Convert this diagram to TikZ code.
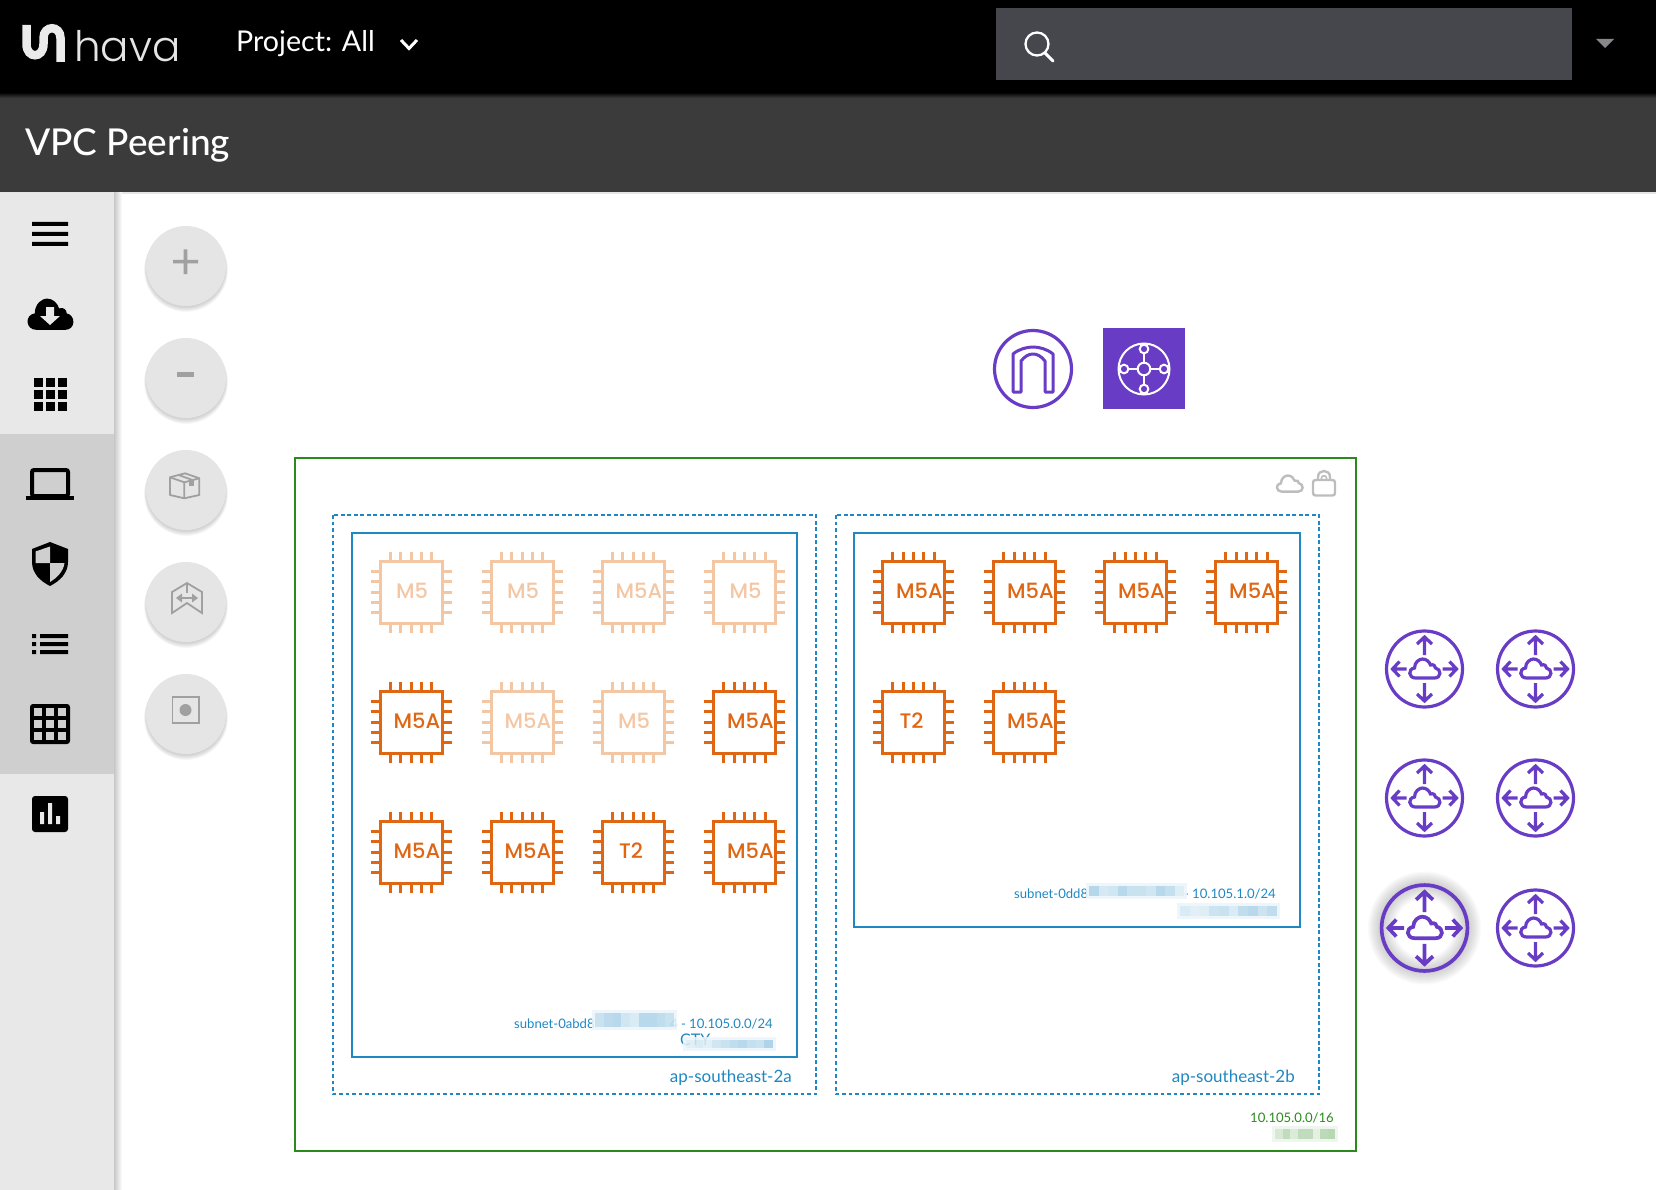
\documentclass[tikz,border=0pt]{standalone}
\usepackage{fontspec}
\setmainfont{Lato}
\newfontfamily\mediumfont{Lato Medium}
\newfontfamily\chipfont{Poppins Medium}
\newfontfamily\logofont{Poppins Light}
\definecolor{headbar}{HTML}{3B3B3B}
\definecolor{searchbox}{HTML}{46474C}
\definecolor{sidebar}{HTML}{E8E8E8}
\definecolor{sidehi}{HTML}{CFCFCF}
\definecolor{zoombtn}{HTML}{E5E5E5}
\definecolor{btnicon}{HTML}{A0A0A0}
\definecolor{vpcgreen}{HTML}{2A8A1C}
\definecolor{subnetblue}{HTML}{1F87C2}
\definecolor{chiporange}{HTML}{DF6613}
\definecolor{chipfade}{HTML}{F3C6A4}
\definecolor{awspurple}{HTML}{693CC5}
\definecolor{lockgrey}{HTML}{BDBDBD}
\tikzset{
  purpleline/.style={draw=awspurple,line width=3.2pt},
  chipline/.style={line width=3pt},
  subnetbox/.style={draw=subnetblue,line width=2.3pt},
  azbox/.style={draw=subnetblue,line width=2.2pt,dash pattern=on 3.6pt off 2.9pt},
  smalllabel/.style={inner sep=0pt,font=\fontsize{13.1}{15}\selectfont},
  azlabel/.style={inner sep=0pt,text=subnetblue,font=\fontsize{17}{18}\selectfont},
  chiplabel/.style={inner sep=0pt,font=\chipfont\fontsize{21}{24}\selectfont},
  iconbtn/.style={draw=btnicon,line width=1.8pt},
  cloudicon/.pic={
    \path[pic actions] (-9,9) .. controls (-16,9) and (-17,0) .. (-10,-1) .. controls (-10,-7) and (-5,-10) .. (-2,-10) .. controls (2,-10) and (5,-7) .. (6,-4) .. controls (9,-5) and (11,-3) .. (11,-1) .. controls (17,0) and (17,9) .. (10,9) -- cycle;
  },
  vpcrouter/.pic={
    \draw[purpleline] (0,0) circle (38);
    \foreach \a/\s in {0/18,90/14,180/18,270/14}
      \draw[purpleline,rotate=\a] (\s,0) -- (32,0) (25,-7.5) -- (32,0) -- (25,7.5);
    \draw[purpleline] (-9,9) .. controls (-16,9) and (-17,0) .. (-10,-1) .. controls (-10,-7) and (-5,-10) .. (-2,-10) .. controls (2,-10) and (5,-7) .. (6,-4) .. controls (9,-5) and (11,-3) .. (11,-1) .. controls (17,0) and (17,9) .. (10,9) -- cycle;
  }
}
\newcommand{\blurbar}[7]{
  \fill[white,opacity=.85] (#1-3,#2-3) rectangle (#1+#3+3,#2+#4+3);
  \fill[#5,opacity=.07] (#1-3,#2-3) rectangle (#1+#3+3,#2+#4+3);
  \foreach \o [count=\i from 0] in {#6}
    \fill[#5,opacity=\o] (#1+\i*#7,#2) rectangle +(#7,#4);
}
\begin{document}
\begin{tikzpicture}[line cap=butt,line join=miter,x=1pt,y=-1pt]
\useasboundingbox (0,0) rectangle (1656,1190);
\fill[black] (0,0) rectangle (1656,94);
\fill[headbar] (0,94) rectangle (1656,192);
\shade[top color=black!70!headbar,bottom color=headbar] (0,94) rectangle (1656,98);
\fill[zoombtn] (0,192) rectangle (1656,194);
\shade[left color=black!22,right color=white] (114,193) rectangle (122,1190);
\fill[sidebar] (0,193) rectangle (114,1190);
\fill[sidehi] (0,434) rectangle (114,774);

\draw[white!92!black,line width=8.5pt] (26.5,25) -- (26.5,44) .. controls (26.5,59) and (43.5,59) .. (43.5,44) -- (43.5,38) .. controls (43.5,25) and (60.5,25) .. (60.5,38) -- (60.5,62);
\node[anchor=base west,inner sep=0pt,text=white!90!black,font=\logofont\fontsize{42}{46}\selectfont] (logo) at (74,62) {hava};
\node[anchor=base west,inner sep=0pt,text=white,font=\fontsize{28.6}{30}\selectfont] (project) at (236,52) {Project: All};
\draw[white,line width=3pt] (401,40) -- (409,48.5) -- (417,40);
\fill[searchbox] (996,8) rectangle (1572,80);
\draw[white,line width=2.3pt] (1037,44) circle (11.5);
\draw[white,line width=3pt,line cap=round] (1045,53) -- (1053,61);
\fill[white!35!searchbox] (1596,39) -- (1614,39) -- (1605,48) -- cycle;
\node[anchor=base west,inner sep=0pt,text=white,font=\mediumfont\fontsize{37}{40}\selectfont] (title) at (25,156) {VPC Peering};

\fill[black] (32,222) rectangle (68,226) (32,232) rectangle (68,236) (32,242) rectangle (68,246);
\pic[fill=black,xscale=1.52,yscale=1.65] (dlcloud) at (50,315) {cloudicon};
\fill[sidebar] (46,307) -- (54,307) -- (54,316) -- (60,316) -- (50,325) -- (40,316) -- (46,316) -- cycle;
\foreach \i in {0,1,2}
  \foreach \j in {0,1,2}
    \fill[black] (34+\i*12,378+\j*12) rectangle +(8.5,8.5);
\draw[black,line width=4pt,rounded corners=2pt] (32,496) -- (32,470) -- (68,470) -- (68,496) -- cycle;
\fill[black] (26,496) rectangle (74,500);
\fill[black] (50,542) -- (68,549) -- (68,562) .. controls (68,573) and (60,581) .. (50,586) .. controls (40,581) and (32,573) .. (32,562) -- (32,549) -- cycle;
\fill[sidehi] (50,546.5) -- (35.5,551.5) -- (35.5,563) -- (50,563) -- cycle;
\fill[sidehi] (50,563) -- (64.5,563) .. controls (63.5,571) and (57,578) .. (50,582) -- cycle;
\foreach \y in {634,642,650}
  \fill[black] (32,\y) rectangle +(4,4) (40,\y) rectangle +(28,4);
\fill[black,rounded corners=3pt] (30,704) rectangle (70,744);
\foreach \i in {0,1,2}
  \foreach \j in {0,1,2}
    \fill[sidehi] (34+\i*12,708+\j*12) rectangle +(8,8);
\fill[black,rounded corners=3pt] (32,796) rectangle (68,832);
\fill[sidebar] (40,812) rectangle (44,824) (48,803) rectangle (52,824) (56,816) rectangle (60,824);

\foreach \y in {266,378,490,602,714} {
  \foreach \w in {1,...,6}
    \fill[black,opacity=.03] (186,\y+1+\w*.5) circle (39.5+\w*.4);
  \fill[zoombtn] (186,\y) circle (40);
}
\fill[btnicon] (173,260) rectangle (198,263.5) (183.7,249.5) rectangle (187.3,274);
\fill[btnicon] (177,371.5) rectangle (194,376.5);
\draw[iconbtn,line join=round] (185,473.3) -- (199.3,478.3) -- (199.3,495) -- (184.3,498.3) -- (170,495) -- (170,477.3) -- cycle;
\draw[iconbtn,line join=round] (170,477.3) -- (184.3,482.3) -- (199.3,478.3) (184.3,482.3) -- (184.3,498.3) (178.5,475) -- (192.5,480);
\fill[btnicon] (189,480) rectangle (194,486);
\draw[iconbtn] (172,592) -- (187,583) -- (202,592) -- (202,613) -- (187,603) -- (172,613) -- cycle;
\draw[iconbtn] (187,583) -- (187,593);
\draw[btnicon,line width=2.2pt] (180,598) -- (194,598);
\fill[btnicon] (176,598) -- (182,593.5) -- (182,602.5) -- cycle (198,598) -- (192,593.5) -- (192,602.5) -- cycle;
\draw[iconbtn] (172.5,697) rectangle (199,723);
\fill[btnicon] (185.5,710) circle (6);

\draw[purpleline] (1033,369) circle (38.5);
\draw[awspurple,line width=3pt,line join=round] (1013,392) -- (1013,354) .. controls (1019,349) and (1027,347) .. (1033,347) .. controls (1039,347) and (1047,349) .. (1053,354) -- (1053,392) -- (1045,392) -- (1045,361) .. controls (1041,356) and (1037,354) .. (1033,354) .. controls (1029,354) and (1025,356) .. (1021,361) -- (1021,392) -- cycle;
\fill[awspurple] (1103,328) rectangle (1185,409);
\draw[white,line width=2pt] (1144,369) circle (25.5);
\foreach \a in {0,90,180,270} {
  \draw[white,line width=2pt,shift={(1144,369)},rotate=\a] (6,0) -- (16,0);
  \draw[white,line width=2pt,fill=awspurple,shift={(1144,369)},rotate=\a] (20,0) circle (4.3);
}
\draw[white,line width=2pt] (1144,369) circle (6.3);

\draw[vpcgreen,line width=2.3pt] (295,458) rectangle (1356,1151);
\draw[azbox] (333,515) rectangle (816,1094);
\draw[azbox] (836,515) rectangle (1319,1094);
\draw[subnetbox] (352,533) rectangle (797,1057);
\draw[subnetbox] (854,533) rectangle (1300,927);
\pic[draw=lockgrey,line width=2.4pt,scale=.85] (vpccloud) at (1289.5,484) {cloudicon};
\draw[lockgrey,line width=2.4pt,rounded corners=2.5pt] (1313,480) rectangle (1335,495.5);
\draw[lockgrey,line width=2.4pt] (1318,480) -- (1318,477) .. controls (1318,469) and (1330,469) .. (1330,477) -- (1330,480);
\draw[lockgrey,line width=1.6pt] (1321.5,480) -- (1321.5,478) .. controls (1321.5,475) and (1326.5,475) .. (1326.5,478) -- (1326.5,480);

\foreach \cx/\cy/\clab/\cdx/\ccol [count=\n] in {
  411/592/M5/1/chipfade,522/592/M5/1/chipfade,633/592/M5A/6/chipfade,744.5/592/M5/1/chipfade,
  411/722/M5A/6/chiporange,522/722/M5A/6/chipfade,633/722/M5/1/chipfade,744.5/722/M5A/6/chiporange,
  411/852/M5A/6/chiporange,522/852/M5A/6/chiporange,633/852/T2/-2/chiporange,744.5/852/M5A/6/chiporange,
  913.5/592/M5A/6/chiporange,1024.5/592/M5A/6/chiporange,1135.5/592/M5A/6/chiporange,1246.5/592/M5A/6/chiporange,
  913.5/722/T2/-2/chiporange,1024.5/722/M5A/6/chiporange} {
  \draw[\ccol,chipline] (\cx-31,\cy-31) rectangle (\cx+31,\cy+31);
  \foreach \p in {-20.8,-10.4,0,10.4,20.8}
    \draw[\ccol,chipline] (\cx+\p,\cy-32) -- (\cx+\p,\cy-40.5) (\cx+\p,\cy+32) -- (\cx+\p,\cy+40.5) (\cx-32,\cy+\p) -- (\cx-40.5,\cy+\p) (\cx+32,\cy+\p) -- (\cx+40.5,\cy+\p);
  \node[chiplabel,text=\ccol] (chip\n) at (\cx+\cdx,\cy-1) {\clab};
}

\node[smalllabel,text=subnetblue,anchor=base west] (subneta) at (514,1028.5) {subnet-0abd8};
\node[smalllabel,text=subnetblue,anchor=base east] (cidra) at (773,1028.5) {4 - 10.105.0.0/24};
\node[smalllabel,text=subnetblue,anchor=base west,font=\fontsize{16}{18}\selectfont] (tagA) at (680,1045) {CTY};
\blurbar{595}{1013}{79}{14}{subnetblue}{.18,.24,.26,.14,.1,.26,.26,.22,.18}{8.8}
\blurbar{686}{1040}{87}{8}{subnetblue}{.06,.1,.06,.14,.18,.22,.26,.2,.18,.3}{8.7}
\node[smalllabel,text=subnetblue,anchor=base west] (subnetb) at (1014,898.5) {subnet-0dd8};
\node[smalllabel,text=subnetblue,anchor=base east] (cidrb) at (1276,898.5) {- 10.105.1.0/24};
\blurbar{1089}{886}{95}{10}{subnetblue}{.28,.12,.14,.26,.18,.18,.14,.26,.2,.08}{9.5}
\blurbar{1180}{906}{97}{10}{subnetblue}{.1,.06,.08,.16,.18,.1,.22,.26,.16,.22}{9.7}
\node[azlabel,anchor=base east] (aza) at (792,1082) {ap-southeast-2a};
\node[azlabel,anchor=base east] (azb) at (1295,1082) {ap-southeast-2b};
\node[smalllabel,text=vpcgreen,anchor=base east] (vpccidr) at (1334,1122.5) {10.105.0.0/16};
\blurbar{1275}{1129}{60}{10}{vpcgreen}{.12,.24,.1,.24,.24,.05,.26,.28}{7.5}

\foreach \x/\y in {1424.5/669,1535.5/669,1424.5/798,1535.5/798,1535.5/928}
  \pic (router-\x-\y) at (\x,\y) {vpcrouter};
\foreach \w in {3,6,...,27}
  \draw[black,line width=\w,opacity=.025] (1424.5,928) circle (43);
\begin{scope}[purpleline/.append style={line width=3.7pt}]
\pic[scale=1.13] (routerhover) at (1424.5,928) {vpcrouter};
\end{scope}
\end{tikzpicture}
\end{document}
